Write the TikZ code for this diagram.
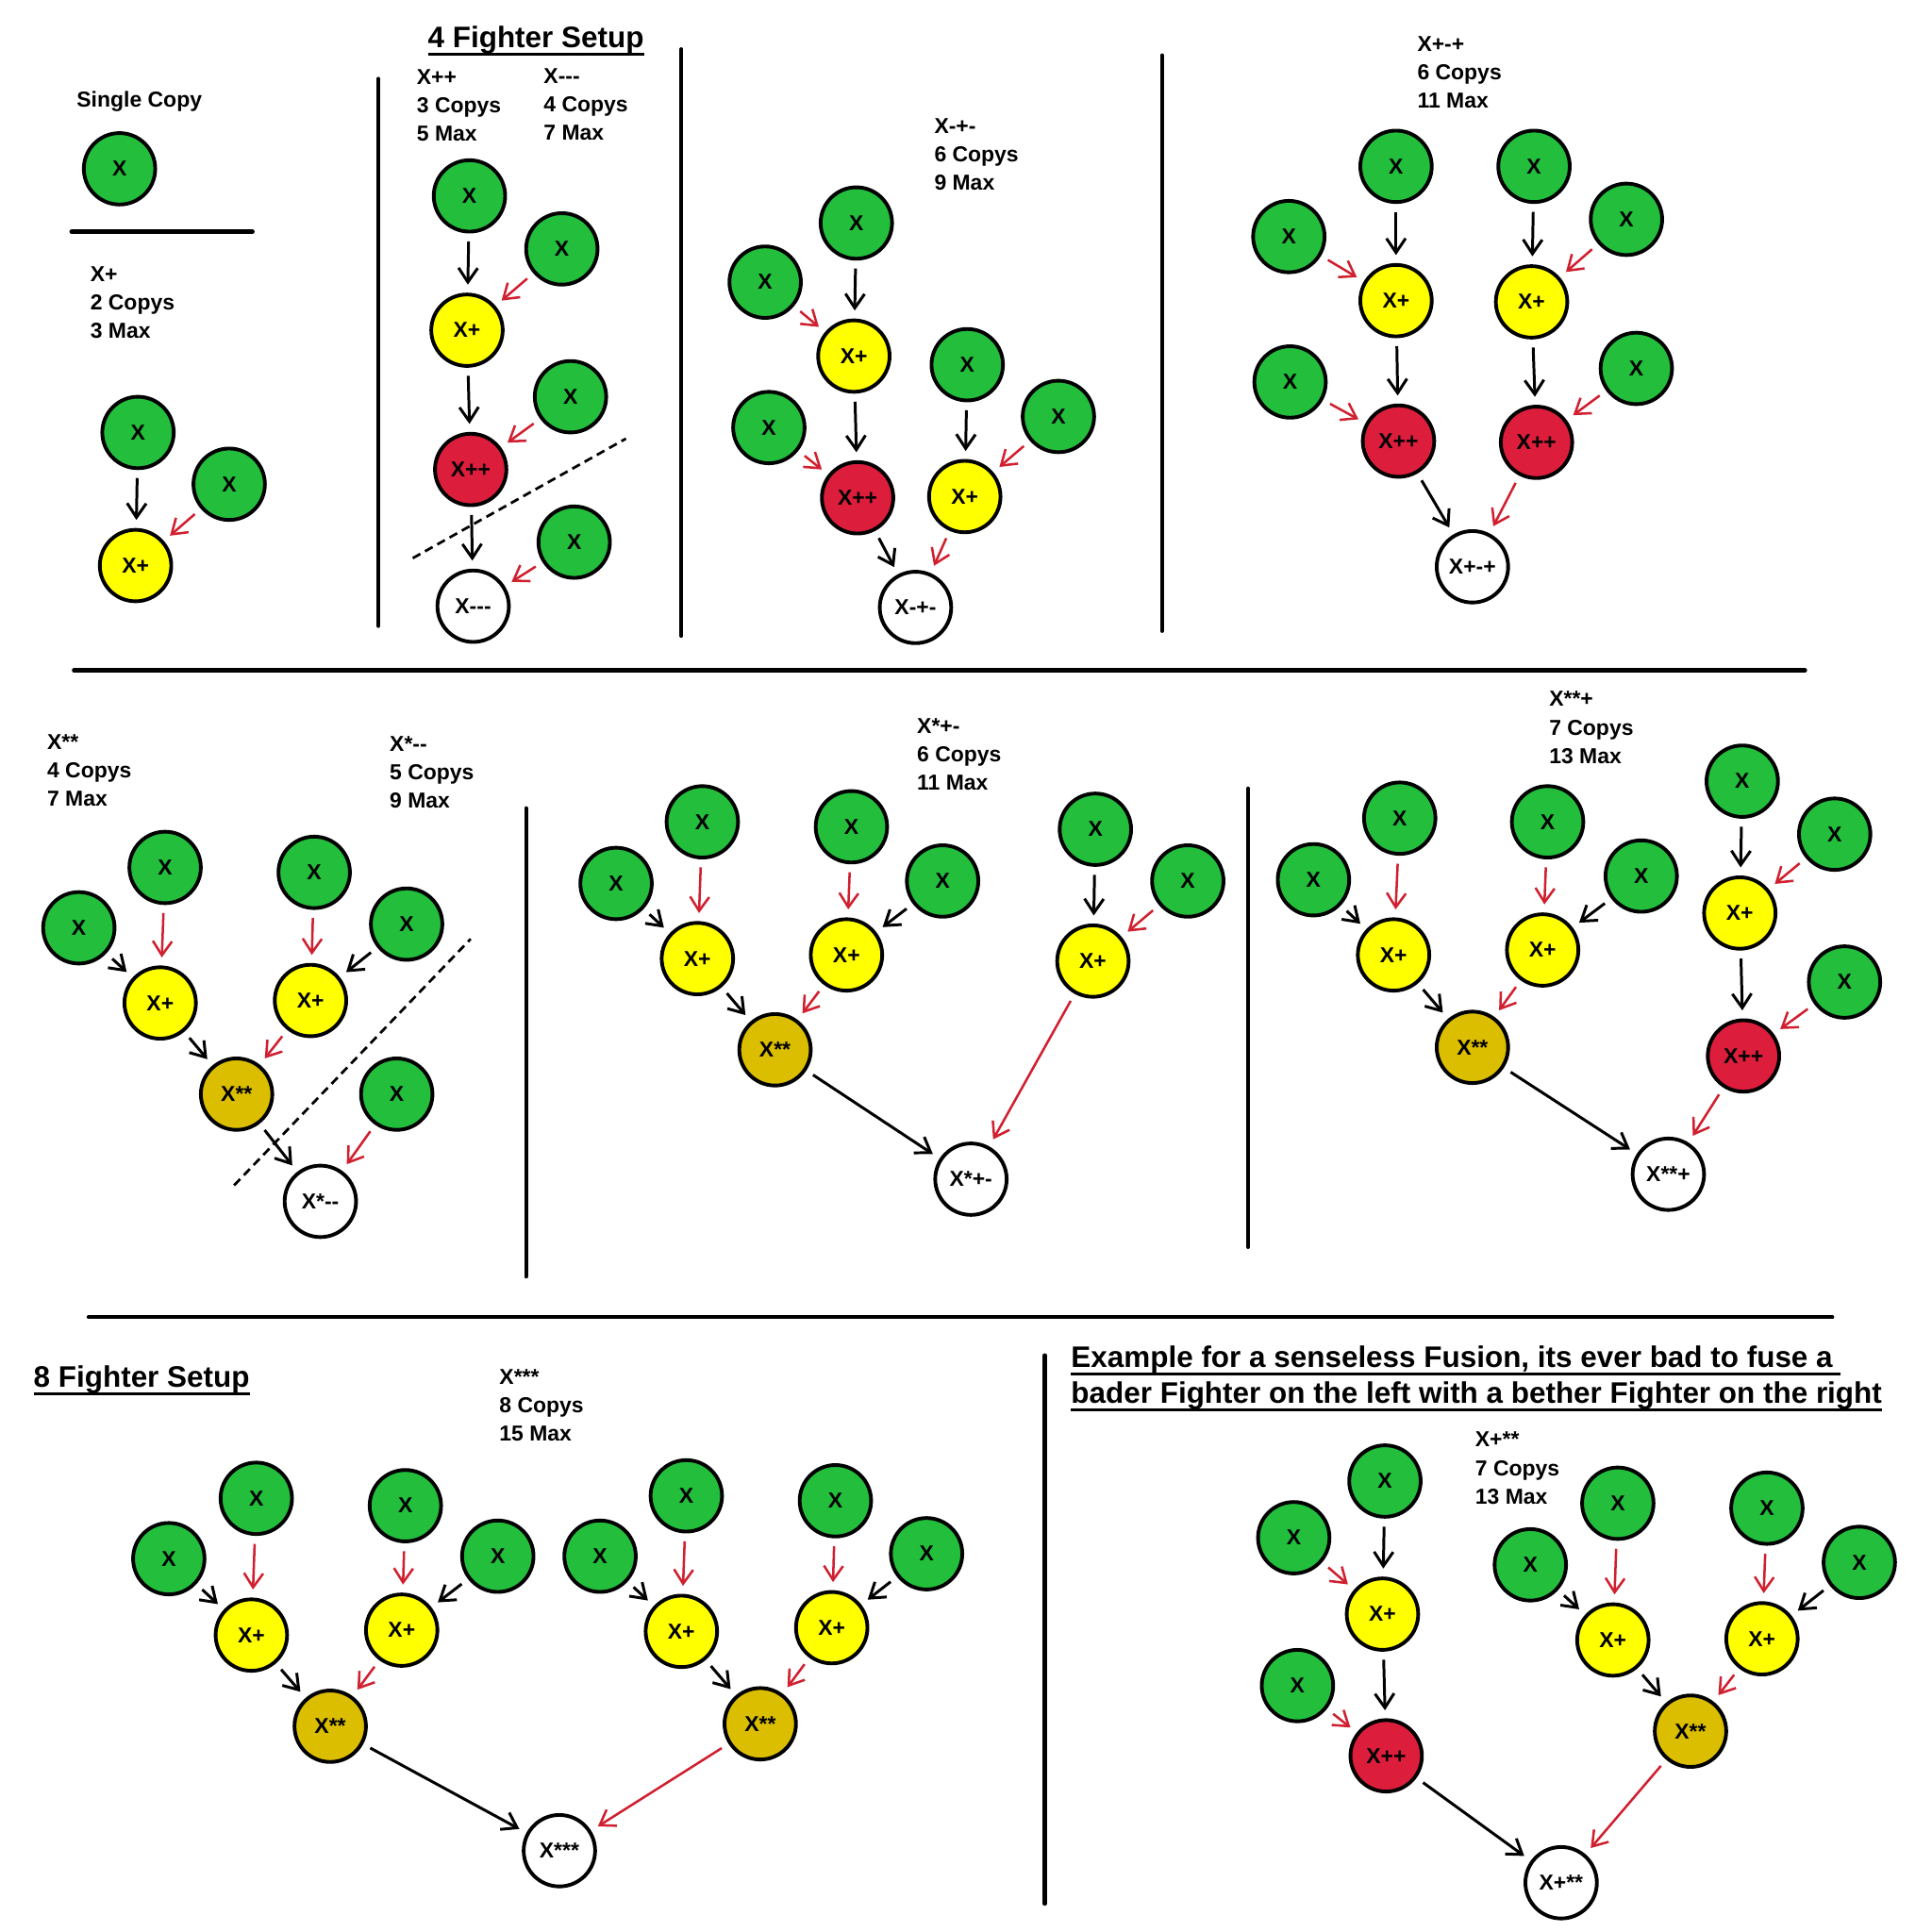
\documentclass[tikz,border=0pt]{standalone}
\usepackage{fontspec}
\setmainfont{Liberation Sans}
\usetikzlibrary{arrows.meta}
\definecolor{cgreen}{HTML}{22BE3C}
\definecolor{cyellow}{HTML}{FFFF00}
\definecolor{cred}{HTML}{DC1E3C}
\definecolor{cgold}{HTML}{DCBE00}
\definecolor{carrow}{HTML}{D02030}
\newcommand{\uln}[1]{\setbox0\hbox{#1}\rlap{\rule[-3.6pt]{\wd0}{1.1pt}}\box0}
\tikzset{
  fx/.style={circle, draw=black, line width=1.7pt, minimum size=1.16cm, inner sep=0pt,
             font=\fontsize{10}{11}\selectfont\bfseries},
  gx/.style={fx, fill=cgreen},
  yx/.style={fx, fill=cyellow},
  rx/.style={fx, fill=cred},
  ox/.style={fx, fill=cgold},
  wx/.style={fx, fill=white},
  ar/.style={-{Straight Barb[length=2.3mm,width=3.1mm]}, line width=1.3pt,
             shorten <=1.3mm, shorten >=1.3mm},
  rar/.style={ar, draw=carrow, line width=1.1pt},
  sep/.style={line width=1.9pt, line cap=round},
  cut/.style={line width=1.2pt, dash pattern=on 4pt off 2.5pt},
  info/.style={anchor=north west, inner sep=0pt, align=left,
               font=\fontsize{10}{13.1}\selectfont\bfseries},
  ttl/.style={anchor=north west, inner sep=0pt, align=left,
              font=\fontsize{13.7}{16.5}\selectfont\bfseries},
}
\begin{document}
\begin{tikzpicture}[x=0.02cm, y=-0.02cm]
\path[fill=white, use as bounding box] (0,0) rectangle (1568,1568);
% Single copy / X+
\node[info] (tsingle) at (62,74) {Single Copy};
\node[gx] (single) at (97,137) {X};
\draw[sep] (58,188) -- (205,188);
\node[info] (txp) at (73,216) {X+\\2 Copys\\3 Max};
\node[gx] (pA) at (112,351) {X};
\node[gx] (pB) at (186,393) {X};
\node[yx] (pY) at (110,459) {X+};
\draw[ar] (pA) -- (pY); \draw[rar] (pB) -- (pY);
\draw[sep] (307,64) -- (307,508);
% 4 fighter setup: X++ / X---
\node[ttl] (t4) at (347,21) {\uln{4 Fighter Setup}};
\node[info] (tpp) at (338,56) {X++\\3 Copys\\5 Max};
\node[info] (tmmm) at (441,55) {X-{}-{}-\\4 Copys\\7 Max};
\node[gx] (qA) at (381,159) {X};
\node[gx] (qB) at (456,202) {X};
\node[yx] (qY) at (379,268) {X+};
\node[gx] (qC) at (463,322) {X};
\node[rx] (qR) at (382,381) {X++};
\node[gx] (qD) at (466,440) {X};
\node[wx] (qW) at (384,492) {X-{}-{}-};
\draw[ar] (qA) -- (qY); \draw[ar] (qY) -- (qR); \draw[ar] (qR) -- (qW);
\draw[rar] (qB) -- (qY); \draw[rar] (qC) -- (qR); \draw[rar] (qD) -- (qW);
\draw[cut] (335,453) -- (508,356);
\draw[sep] (553,40) -- (553,516);
% X-+-
\node[info] (tmpm) at (758,96) {X-+-\\6 Copys\\9 Max};
\node[gx] (rA) at (695,181) {X};
\node[gx] (rB) at (621,229) {X};
\node[yx] (rY) at (693,289) {X+};
\node[gx] (rC) at (624,347) {X};
\node[rx] (rR) at (696,404) {X++};
\node[gx] (rD) at (785,296) {X};
\node[gx] (rE) at (859,338) {X};
\node[yx] (rZ) at (783,403) {X+};
\node[wx] (rW) at (743,493) {X-+-};
\draw[ar] (rA) -- (rY); \draw[ar] (rY) -- (rR); \draw[ar] (rD) -- (rZ); \draw[ar] (rR) -- (rW);
\draw[rar] (rB) -- (rY); \draw[rar] (rC) -- (rR); \draw[rar] (rE) -- (rZ); \draw[rar] (rZ) -- (rW);
\draw[sep] (943,45) -- (943,512);
% X+-+
\node[info] (tpmp) at (1150,29) {X+-+\\6 Copys\\11 Max};
\node[gx] (sA) at (1133,135) {X};
\node[gx] (sB) at (1245,135) {X};
\node[gx] (sC) at (1046,192) {X};
\node[gx] (sD) at (1320,178) {X};
\node[yx] (sY) at (1133,244) {X+};
\node[yx] (sZ) at (1243,245) {X+};
\node[gx] (sE) at (1047,310) {X};
\node[gx] (sF) at (1328,299) {X};
\node[rx] (sR) at (1135,358) {X++};
\node[rx] (sS) at (1247,359) {X++};
\node[wx] (sW) at (1195,460) {X+-+};
\draw[ar] (sA) -- (sY); \draw[ar] (sB) -- (sZ); \draw[ar] (sY) -- (sR); \draw[ar] (sZ) -- (sS);
\draw[ar] (sR) -- (sW);
\draw[rar] (sC) -- (sY); \draw[rar] (sD) -- (sZ); \draw[rar] (sE) -- (sR); \draw[rar] (sF) -- (sS);
\draw[rar] (sS) -- (sW);
\draw[sep] (60,544) -- (1465,544);
% X** / X*--
\node[info] (tss) at (38,596) {X**\\4 Copys\\7 Max};
\node[info] (tsmm) at (316,597) {X*-{}-\\5 Copys\\9 Max};
\node[gx] (tA) at (134,704) {X};
\node[gx] (tB) at (64,753) {X};
\node[yx] (tY) at (130,814) {X+};
\node[gx] (tC) at (255,708) {X};
\node[gx] (tD) at (330,750) {X};
\node[yx] (tZ) at (252,812) {X+};
\node[ox] (tO) at (192,888) {X**};
\node[gx] (tE) at (322,888) {X};
\node[wx] (tW) at (260,975) {X*-{}-};
\draw[rar] (tA) -- (tY); \draw[rar] (tC) -- (tZ); \draw[rar] (tZ) -- (tO); \draw[rar] (tE) -- (tW);
\draw[ar] (tB) -- (tY); \draw[ar] (tD) -- (tZ); \draw[ar] (tY) -- (tO); \draw[ar] (tO) -- (tW);
\draw[cut] (190,962) -- (382,762);
\draw[sep] (427,656) -- (427,1036);
% X*+-
\node[info] (tspm) at (744,583) {X*+-\\6 Copys\\11 Max};
\node[gx] (uA) at (570,667) {X};
\node[gx] (uB) at (500,717) {X};
\node[yx] (uY) at (566,778) {X+};
\node[gx] (uC) at (691,671) {X};
\node[gx] (uD) at (765,715) {X};
\node[yx] (uZ) at (687,775) {X+};
\node[ox] (uO) at (629,852) {X**};
\node[gx] (uE) at (889,673) {X};
\node[gx] (uF) at (964,715) {X};
\node[yx] (uV) at (887,780) {X+};
\node[wx] (uW) at (788,957) {X*+-};
\draw[rar] (uA) -- (uY); \draw[rar] (uC) -- (uZ); \draw[rar] (uZ) -- (uO); \draw[rar] (uF) -- (uV);
\draw[rar] (uV) -- (uW);
\draw[ar] (uB) -- (uY); \draw[ar] (uD) -- (uZ); \draw[ar] (uY) -- (uO); \draw[ar] (uE) -- (uV);
\draw[ar] (uO) -- (uW);
\draw[sep] (1013,640) -- (1013,1012);
% X**+
\node[info] (tssp) at (1257,561) {X**+\\7 Copys\\13 Max};
\node[gx] (vA) at (1136,664) {X};
\node[gx] (vB) at (1066,714) {X};
\node[yx] (vY) at (1131,775) {X+};
\node[gx] (vC) at (1256,667) {X};
\node[gx] (vD) at (1332,711) {X};
\node[yx] (vZ) at (1252,771) {X+};
\node[ox] (vO) at (1195,850) {X**};
\node[gx] (vE) at (1414,634) {X};
\node[gx] (vF) at (1489,677) {X};
\node[yx] (vV) at (1412,741) {X+};
\node[gx] (vG) at (1497,797) {X};
\node[rx] (vR) at (1415,857) {X++};
\node[wx] (vW) at (1354,953) {X**+};
\draw[rar] (vA) -- (vY); \draw[rar] (vC) -- (vZ); \draw[rar] (vZ) -- (vO); \draw[rar] (vF) -- (vV);
\draw[rar] (vG) -- (vR); \draw[rar] (vR) -- (vW);
\draw[ar] (vB) -- (vY); \draw[ar] (vD) -- (vZ); \draw[ar] (vY) -- (vO); \draw[ar] (vE) -- (vV);
\draw[ar] (vV) -- (vR); \draw[ar] (vO) -- (vW);
\draw[sep] (72,1069) -- (1487,1069);
% 8 fighter setup: X***
\node[ttl] (t8) at (27,1108) {\uln{8 Fighter Setup}};
\node[info] (tsss) at (405,1111) {X***\\8 Copys\\15 Max};
\node[gx] (wA) at (208,1216) {X};
\node[gx] (wB) at (137,1265) {X};
\node[yx] (wY) at (204,1327) {X+};
\node[gx] (wC) at (329,1222) {X};
\node[gx] (wD) at (404,1263) {X};
\node[yx] (wZ) at (326,1323) {X+};
\node[ox] (wO) at (268,1401) {X**};
\node[gx] (xA) at (557,1214) {X};
\node[gx] (xB) at (487,1263) {X};
\node[yx] (xY) at (553,1324) {X+};
\node[gx] (xC) at (678,1218) {X};
\node[gx] (xD) at (752,1261) {X};
\node[yx] (xZ) at (675,1321) {X+};
\node[ox] (xO) at (617,1399) {X**};
\node[wx] (eW) at (454,1502) {X***};
\draw[rar] (wA) -- (wY); \draw[rar] (wC) -- (wZ); \draw[rar] (wZ) -- (wO);
\draw[rar] (xA) -- (xY); \draw[rar] (xC) -- (xZ); \draw[rar] (xZ) -- (xO); \draw[rar] (xO) -- (eW);
\draw[ar] (wB) -- (wY); \draw[ar] (wD) -- (wZ); \draw[ar] (wY) -- (wO);
\draw[ar] (xB) -- (xY); \draw[ar] (xD) -- (xZ); \draw[ar] (xY) -- (xO); \draw[ar] (wO) -- (eW);
\draw[sep] (848,1100) -- (848,1545);
% senseless fusion: X+**
\node[ttl] (tex) at (869,1092) {\uln{Example for a senseless Fusion, its ever bad to fuse a\ }\\
  \uln{bader Fighter on the left with a bether Fighter on the right}};
\node[info] (tpss) at (1197,1162) {X+**\\7 Copys\\13 Max};
\node[gx] (yA) at (1124,1202) {X};
\node[gx] (yB) at (1050,1248) {X};
\node[yx] (yY) at (1122,1310) {X+};
\node[gx] (yC) at (1053,1368) {X};
\node[rx] (yR) at (1125,1425) {X++};
\node[gx] (zA) at (1313,1220) {X};
\node[gx] (zB) at (1242,1270) {X};
\node[yx] (zY) at (1309,1331) {X+};
\node[gx] (zC) at (1434,1224) {X};
\node[gx] (zD) at (1509,1268) {X};
\node[yx] (zZ) at (1430,1330) {X+};
\node[ox] (zO) at (1372,1405) {X**};
\node[wx] (fW) at (1267,1528) {X+**};
\draw[ar] (yA) -- (yY); \draw[ar] (yY) -- (yR); \draw[ar] (zB) -- (zY); \draw[ar] (zD) -- (zZ);
\draw[ar] (zY) -- (zO); \draw[ar] (yR) -- (fW);
\draw[rar] (yB) -- (yY); \draw[rar] (yC) -- (yR); \draw[rar] (zA) -- (zY); \draw[rar] (zC) -- (zZ);
\draw[rar] (zZ) -- (zO); \draw[rar] (zO) -- (fW);
\end{tikzpicture}
\end{document}
